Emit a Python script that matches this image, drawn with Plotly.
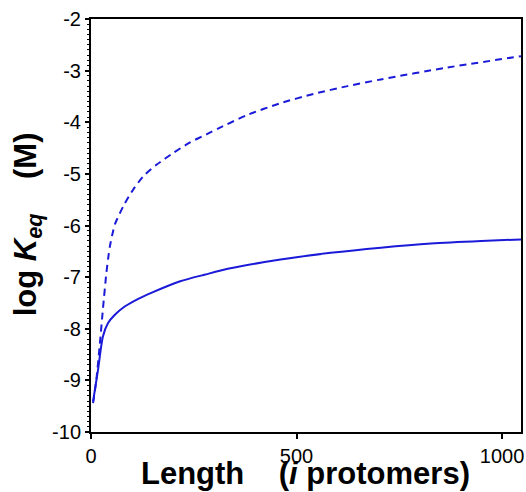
import plotly.graph_objects as go

# Solid curve (log Keq vs length)
solid_len = [5, 17, 29, 41.5, 58, 82, 115, 148, 217, 278, 339, 461, 583, 705, 827, 949, 1046]
solid_logk = [-9.41, -8.80, -8.15, -7.89, -7.73, -7.57, -7.42, -7.30, -7.08, -6.95, -6.83,
              -6.66, -6.53, -6.43, -6.35, -6.30, -6.27]

# Dashed curve
dash_len = [5, 13, 21, 29, 37, 42, 46, 54, 58.5, 79, 103, 128, 160, 201, 241, 282, 315,
            380, 461, 542, 624, 705, 867, 1046]
dash_logk = [-9.44, -8.99, -8.34, -7.62, -6.95, -6.62, -6.40, -6.10, -5.97, -5.62, -5.30,
             -5.04, -4.82, -4.59, -4.39, -4.23, -4.10, -3.86, -3.63, -3.45, -3.30, -3.17,
             -2.94, -2.72]

x_ticks = [0, 500, 1000]
y_ticks = [-10, -9, -8, -7, -6, -5, -4, -3, -2]

blue = "#1a1ad8"
font_family = "Liberation Sans, Arial, sans-serif"
sp = "&nbsp;"

fig = go.Figure()
fig.add_trace(go.Scatter(x=solid_len, y=solid_logk, mode="lines",
                         line=dict(color=blue, width=2, shape="spline", smoothing=0.7),
                         showlegend=False))
fig.add_trace(go.Scatter(x=dash_len, y=dash_logk, mode="lines",
                         line=dict(color=blue, width=2, dash="7px,5px", shape="spline", smoothing=0.7),
                         showlegend=False))

fig.update_layout(
    width=526, height=492,
    margin=dict(l=91, r=5, t=19, b=60, autoexpand=False),
    paper_bgcolor="white", plot_bgcolor="white",
    font=dict(family=font_family, color="black", size=18),
)
fig.update_xaxes(
    range=[0, 1046], tickvals=x_ticks, ticktext=[str(v) for v in x_ticks],
    showline=True, linecolor="black", linewidth=2, mirror=True,
    ticks="outside", ticklen=5, tickwidth=1.5, tickcolor="black",
    showgrid=False, zeroline=False, automargin=False,
    tickfont=dict(size=20),
)
fig.update_yaxes(
    range=[-10, -2], tickvals=y_ticks, ticktext=[str(v) for v in y_ticks],
    showline=True, linecolor="black", linewidth=2, mirror=True,
    ticks="outside", ticklen=4, tickwidth=1.5, tickcolor="black",
    minor=dict(dtick=0.1, ticks="outside", ticklen=2, tickcolor="black", tickwidth=1),
    showgrid=False, zeroline=False, automargin=False,
    tickfont=dict(size=20),
)

fig.add_annotation(
    text="<b>Length" + sp * 4 + "(<i>i</i> protomers)</b>",
    xref="paper", yref="paper", x=0.498, y=-0.101,
    xanchor="center", yanchor="middle", showarrow=False,
    font=dict(size=31, family=font_family, color="black"),
)
fig.add_annotation(
    text="<b>log <i>K</i><sub><i>eq</i></sub>" + sp * 4 + "(M)</b>",
    xref="paper", yref="paper", x=-0.1465, y=0.503, textangle=-90,
    xanchor="center", yanchor="middle", showarrow=False,
    font=dict(size=31, family=font_family, color="black"),
)

fig.write_html(
    "out.html",
    config={"displayModeBar": False},
    post_script="document.body.style.margin='0';document.body.style.overflow='hidden';",
)
